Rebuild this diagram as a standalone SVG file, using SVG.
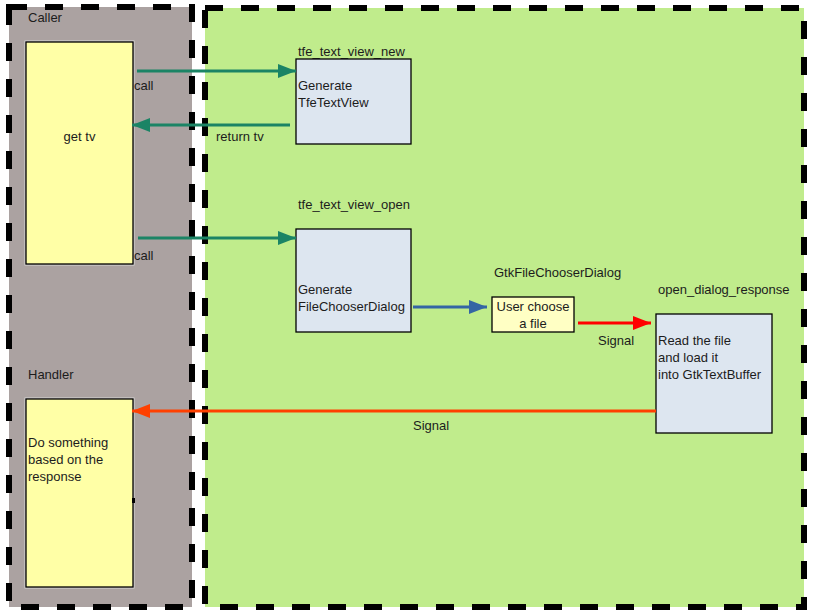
<svg xmlns="http://www.w3.org/2000/svg" width="827" height="615" viewBox="0 0 827 615">
<defs>
<style>
text{font-family:"Liberation Sans",Arial,sans-serif;font-size:13px;fill:#1c1c1c}
.lane{stroke:#000;stroke-width:6;stroke-dasharray:18 18}
.box{stroke:#000;stroke-width:1.3}
.yel{fill:#ffffa6}
.blu{fill:#dde6f0}
.conn{fill:none;stroke-width:3}
</style>
<marker id="aTeal" markerWidth="18" markerHeight="14" refX="18" refY="7" orient="auto" markerUnits="userSpaceOnUse"><path d="M0,0 L18,7 L0,14 z" fill="#1b8465"/></marker>
<marker id="aBlue" markerWidth="18" markerHeight="14" refX="18" refY="7" orient="auto" markerUnits="userSpaceOnUse"><path d="M0,0 L18,7 L0,14 z" fill="#3465a4"/></marker>
<marker id="aRed" markerWidth="18" markerHeight="14" refX="18" refY="7" orient="auto" markerUnits="userSpaceOnUse"><path d="M0,0 L18,7 L0,14 z" fill="#ff0000"/></marker>
<marker id="aOrange" markerWidth="18" markerHeight="14" refX="18" refY="7" orient="auto" markerUnits="userSpaceOnUse"><path d="M0,0 L18,7 L0,14 z" fill="#ff4000"/></marker>
</defs>
<rect width="827" height="615" fill="#fff"/>
<g id="lane-left">
<rect x="9" y="7" width="183" height="600" fill="#aba2a1"/>
<rect class="lane" x="9" y="7" width="183" height="600" fill="none"/>
<text x="28" y="22">Caller</text>
<text x="28" y="379">Handler</text>
</g>
<g id="lane-right">
<rect x="205" y="8" width="599" height="599" fill="#c0ec8c"/>
<rect class="lane" x="205" y="8" width="599" height="599" fill="none"/>
</g>
<g id="caller">
<rect x="25" y="41" width="109" height="224" fill="none" stroke="#d8d8d8" stroke-width="1"/>
<rect class="box yel" x="26" y="42" width="107" height="222"/>
<text x="79.500" y="141" text-anchor="middle">get tv</text>
</g>
<g id="handler">
<rect x="25" y="398" width="109" height="190" fill="none" stroke="#d8d8d8" stroke-width="1"/>
<rect class="box yel" x="26" y="399" width="107" height="188"/>
<rect x="132" y="498" width="3" height="5" fill="#000"/>
<text x="28" y="447">Do something</text>
<text x="28" y="464">based on the</text>
<text x="28" y="481">response</text>
</g>
<g id="tfe_text_view_new">
<text x="298" y="56">tfe_text_view_new</text>
<rect class="box blu" x="296" y="59" width="115" height="85"/>
<text x="298" y="90">Generate</text>
<text x="298" y="107">TfeTextView</text>
</g>
<g id="tfe_text_view_open">
<text x="298" y="209">tfe_text_view_open</text>
<rect class="box blu" x="296" y="229" width="115" height="103"/>
<text x="298" y="294">Generate</text>
<text x="298" y="311">FileChooserDialog</text>
</g>
<g id="gtk_file_chooser">
<text x="494" y="277">GtkFileChooserDialog</text>
<rect class="box" x="492" y="297" width="82" height="35" fill="#ffffc4"/>
<text x="533" y="311" text-anchor="middle">User choose</text>
<text x="533" y="328" text-anchor="middle">a file</text>
</g>
<g id="open_dialog_response">
<text x="658" y="294">open_dialog_response</text>
<rect class="box blu" x="656" y="314" width="116" height="119"/>
<text x="658" y="345">Read the file</text>
<text x="658" y="362">and load it</text>
<text x="658" y="379">into GtkTextBuffer</text>
</g>
<g id="connectors">
<line class="conn" x1="137" y1="71" x2="296" y2="71" stroke="#1b8465" marker-end="url(#aTeal)"/>
<text x="134" y="90">call</text>
<line class="conn" x1="290" y1="125" x2="132" y2="125" stroke="#1b8465" marker-end="url(#aTeal)"/>
<text x="216" y="141">return tv</text>
<line class="conn" x1="138" y1="238" x2="296" y2="238" stroke="#1b8465" marker-end="url(#aTeal)"/>
<text x="134" y="260">call</text>
<line class="conn" x1="413" y1="307" x2="487" y2="307" stroke="#3465a4" marker-end="url(#aBlue)"/>
<line class="conn" x1="578" y1="323" x2="651" y2="323" stroke="#ff0000" marker-end="url(#aRed)"/>
<text x="598" y="345">Signal</text>
<line class="conn" x1="656" y1="411" x2="132" y2="411" stroke="#ff4000" marker-end="url(#aOrange)"/>
<text x="413" y="430">Signal</text>
</g>
</svg>
